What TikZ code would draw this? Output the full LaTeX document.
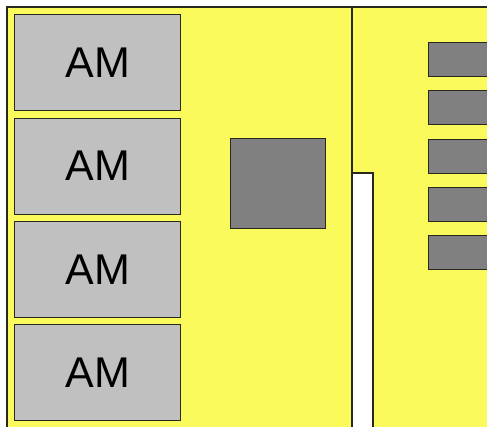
\documentclass[tikz,border=0pt]{standalone}
\usepackage{fontspec}
\setmainfont{Liberation Sans}
\definecolor{boardfill}{RGB}{250,250,92}
\definecolor{modfill}{RGB}{192,192,192}
\definecolor{chipfill}{RGB}{128,128,128}
\definecolor{edge}{RGB}{40,40,30}
\tikzset{
  outline/.style={draw=edge, line width=1.2pt},
  ambox/.style={outline, fill=modfill, anchor=north west, inner sep=0pt,
    minimum width=166pt, minimum height=96pt, font=\fontsize{43}{43}\selectfont},
  chip/.style={outline, fill=chipfill, anchor=north west, inner sep=0pt},
  slot/.style={chip, minimum width=80pt, minimum height=34pt}
}
\begin{document}
\begin{tikzpicture}[x=1pt, y=-1pt]
\useasboundingbox (0,0) rectangle (487,426);
\clip (0,0) rectangle (487,426);
\fill[white] (0,0) rectangle (487,426);
% right board with the white notch at its lower left
\fill[boardfill] (352,7) -- (500,7) -- (500,440) -- (373,440) -- (373,173) -- (352,173) -- cycle;
\draw[outline] (352,7) -- (500,7);
\draw[outline] (352,173) -- (373,173) -- (373,440);
% left board
\draw[outline, fill=boardfill] (7,7) rectangle (352,440);
% memory modules
\node[ambox] (am1) at (14,14) {AM};
\node[ambox] (am2) at (14,117.5) {AM};
\node[ambox] (am3) at (14,221) {AM};
\node[ambox] (am4) at (14,324) {AM};
% processor
\node[chip, minimum width=95pt, minimum height=90pt] (cpu) at (230,138) {};
% slots
\node[slot] (s1) at (428,42) {};
\node[slot] (s2) at (428,90) {};
\node[slot] (s3) at (428,138.5) {};
\node[slot] (s4) at (428,187) {};
\node[slot] (s5) at (428,235) {};
\end{tikzpicture}
\end{document}
